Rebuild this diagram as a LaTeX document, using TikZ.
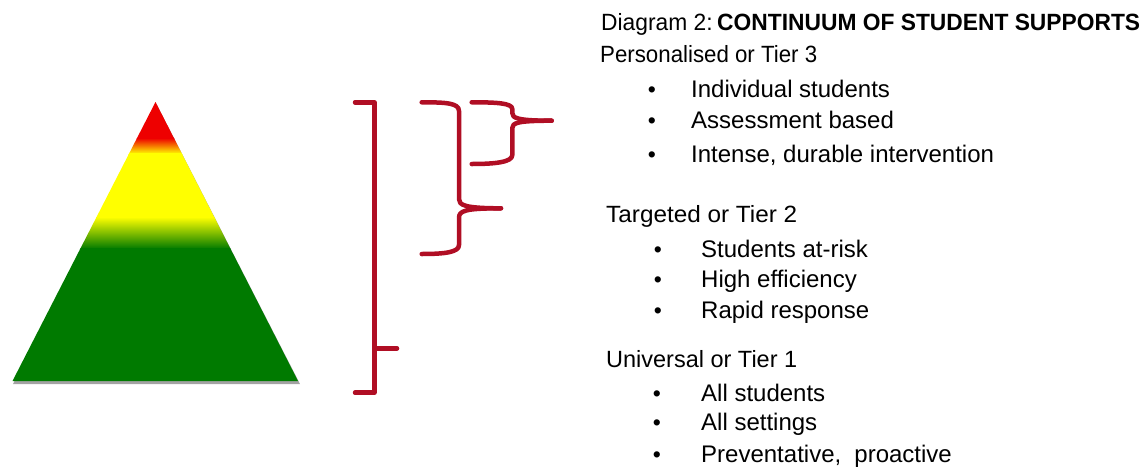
\documentclass[tikz,border=0pt]{standalone}
\usepackage{fontspec}
\usepackage{graphicx}
\setmainfont{Liberation Sans}
\definecolor{tred}{RGB}{238,0,0}
\definecolor{tyellow}{RGB}{255,255,0}
\definecolor{tgreen}{RGB}{0,122,0}
\definecolor{brk}{RGB}{176,14,36}
\tikzset{
  bracketline/.style={draw=brk, line width=4.5pt, line cap=round, line join=round},
  hd/.style={anchor=base west, inner sep=0pt, font=\fontsize{23.5}{27}\selectfont},
  txt/.style={anchor=base west, inner sep=0pt, font=\fontsize{24}{28}\selectfont},
  bul/.style={anchor=base, inner sep=0pt, font=\fontsize{23}{27}\selectfont},
}
\begin{document}
\begin{tikzpicture}[x=1pt,y=-1pt]
\useasboundingbox (0,0) rectangle (1144,472);
% pyramid
\coordinate (apex) at (155.5,102);
\coordinate (bl) at (12.5,381);
\coordinate (br) at (298,381);
\fill[black!60, opacity=0.6] ([shift={(1.5,3)}]apex) -- ([shift={(0.5,3)}]bl) -- ([shift={(2,3)}]br) -- cycle;
\begin{scope}
  \clip (apex) -- (bl) -- (br) -- cycle;
  \fill[tred] (0,95) rectangle (310,139);
  \shade[top color=tred, bottom color=tyellow] (0,138) rectangle (310,154);
  \fill[tyellow] (0,153) rectangle (310,218);
  \shade[top color=tyellow, bottom color=tgreen] (0,217) rectangle (310,249);
  \fill[tgreen] (0,248) rectangle (310,390);
\end{scope}
% large bracket
\coordinate (Lt) at (355,102.3);
\coordinate (Lb) at (355,392.7);
\coordinate (Ltip) at (397,348.3);
\draw[bracketline] (Lt) -- (374.3,102.3) -- (374.3,392.7) -- (Lb);
\draw[bracketline] (374.3,348.3) -- (Ltip);
% middle brace
\coordinate (Mt) at (421.7,102.3);
\coordinate (Mtip) at (501,208.3);
\coordinate (Mb) at (421.7,254);
\draw[bracketline] (Mt) .. controls (446,102.3) and (459,103) .. (459,111)
  -- (459,199) .. controls (459,205) and (464,208.3) .. (Mtip);
\draw[bracketline] (Mtip) .. controls (464,208.3) and (459,211) .. (459,218)
  -- (459,245) .. controls (459,252) and (446,254) .. (Mb);
% small brace
\coordinate (St) at (471.7,102.3);
\coordinate (Stip) at (551.7,120.7);
\coordinate (Sb) at (471.7,164);
\draw[bracketline] (St) .. controls (496,102.3) and (512.3,103) .. (512.3,109)
  -- (512.3,113) .. controls (512.3,118) and (517,120.7) .. (Stip);
\draw[bracketline] (Stip) .. controls (517,120.7) and (512.3,123) .. (512.3,128)
  -- (512.3,155) .. controls (512.3,162) and (496,164) .. (Sb);
% texts
\node[hd] (title) at (601,30) {\resizebox{539pt}{\height}{Diagram 2:\hspace{0.2em}\textbf{CONTINUUM OF STUDENT SUPPORTS}}};
\node[hd] (t3) at (600,62) {\resizebox{217pt}{\height}{Personalised or Tier 3}};
\node[bul] (b31) at (652,97) {•};
\node[txt] (i31) at (691,97) {Individual students};
\node[bul] (b32) at (652,128) {•};
\node[txt] (i32) at (691,128) {Assessment based};
\node[bul] (b33) at (652,162) {•};
\node[txt] (i33) at (691,162) {Intense, durable intervention};
\node[hd] (t2) at (606,222) {\resizebox{191pt}{\height}{Targeted or Tier 2}};
\node[bul] (b21) at (658,257) {•};
\node[txt] (i21) at (701,257) {Students at-risk};
\node[bul] (b22) at (658,287) {•};
\node[txt] (i22) at (701,287) {High efficiency};
\node[bul] (b23) at (658,318) {•};
\node[txt] (i23) at (701,318) {Rapid response};
\node[hd] (t1) at (606,367) {\resizebox{191pt}{\height}{Universal or Tier 1}};
\node[bul] (b11) at (657,401) {•};
\node[txt] (i11) at (701,401) {All students};
\node[bul] (b12) at (657,430) {•};
\node[txt] (i12) at (701,430) {All settings};
\node[bul] (b13) at (657,462) {•};
\node[txt] (i13) at (701,462) {Preventative,\hspace{0.55em}proactive};
\end{tikzpicture}
\end{document}
